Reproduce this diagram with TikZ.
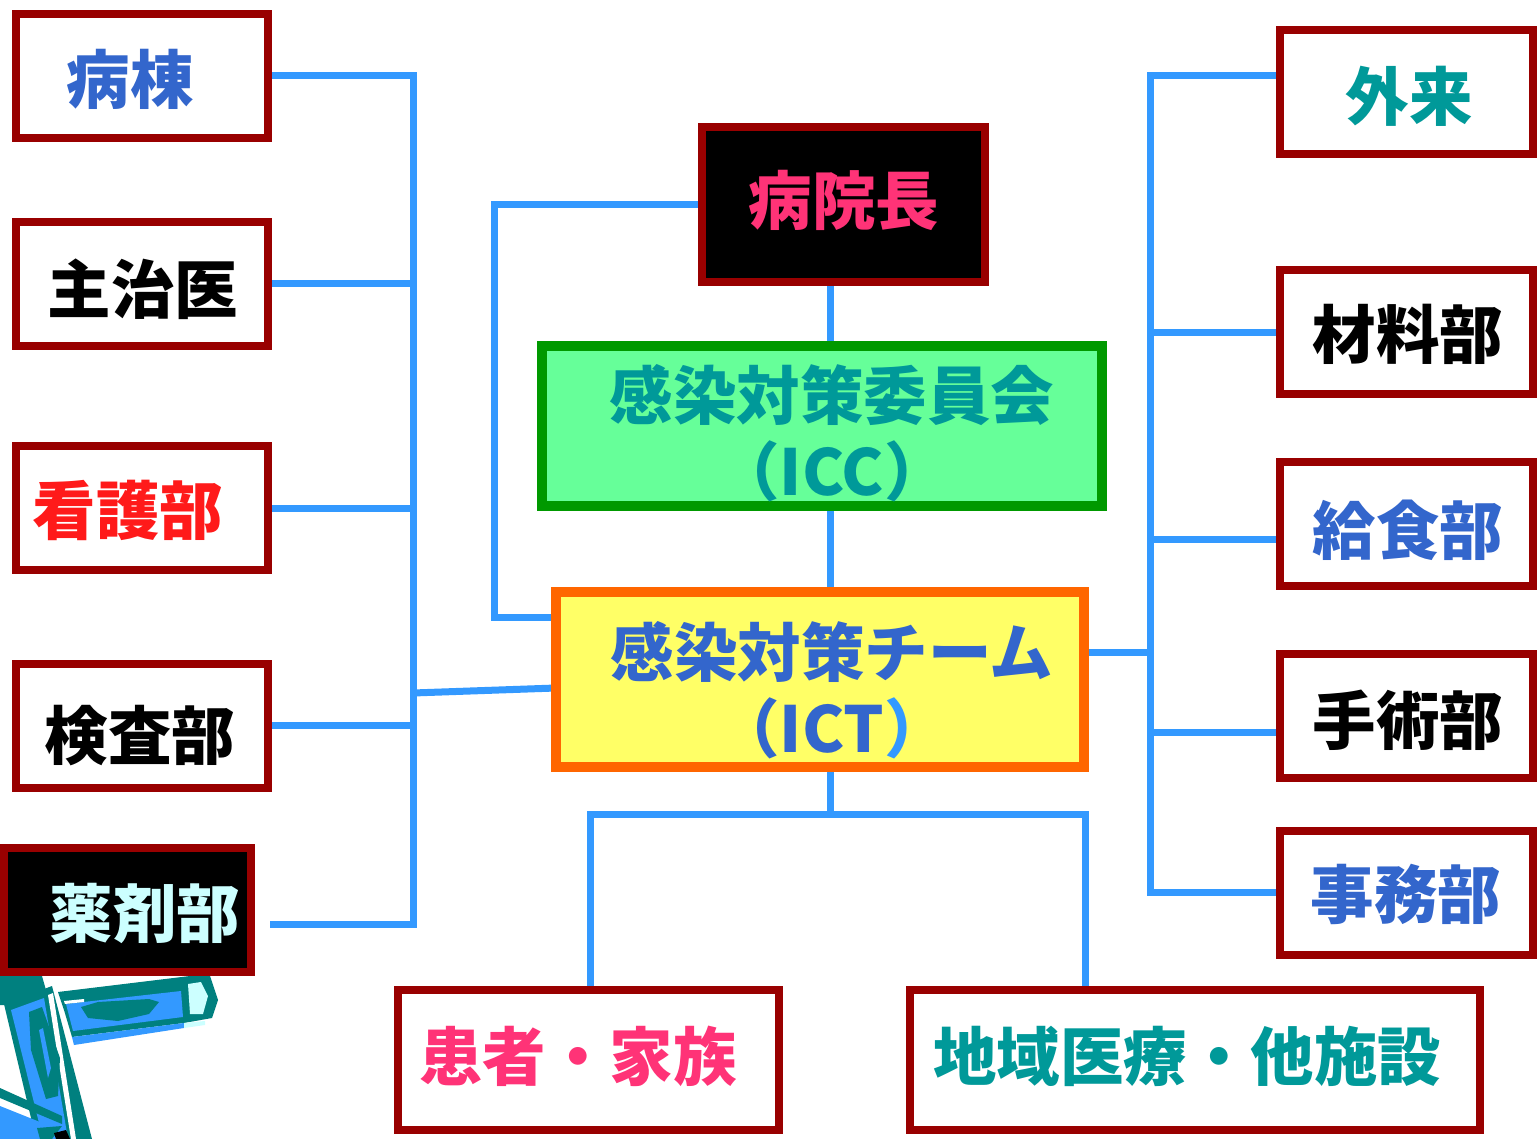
\documentclass[tikz,border=0pt]{standalone}
\usepackage{fontspec}
\setmainfont{Noto Sans CJK JP}
\newfontfamily\jp{Noto Sans CJK JP}
\usetikzlibrary{backgrounds,calc}

\definecolor{boxred}{HTML}{990000}
\definecolor{linkblue}{HTML}{3399FF}
\definecolor{txtblue}{HTML}{3366CC}
\definecolor{txtteal}{HTML}{009999}
\definecolor{txtpink}{HTML}{FF3377}
\definecolor{txtred}{HTML}{FF1A1A}
\definecolor{txtcyan}{HTML}{CCFFFF}
\definecolor{iccgreen}{HTML}{009900}
\definecolor{iccfill}{HTML}{66FF99}
\definecolor{ictorange}{HTML}{FF6600}
\definecolor{ictfill}{HTML}{FFFF66}
\definecolor{clipteal}{HTML}{00807F}
\definecolor{clipblue}{HTML}{3399FF}
\definecolor{clipcyan}{HTML}{CCFFFF}

\tikzset{
  orgbox/.style={draw=boxred, line width=8pt, fill=white, outer sep=0pt, inner sep=0pt,
                 minimum width=252pt, minimum height=124pt},
  link/.style={draw=linkblue, line width=7pt},
  lbl/.style={inner sep=0pt, outer sep=0pt, align=center,
              font=\jp\bfseries\fontsize{63.5}{76}\selectfont},
}

\begin{document}
\begin{tikzpicture}[x=1pt,y=-1pt]
\useasboundingbox (0,0) rectangle (1537,1139);

% ---- clipart: capsules (bottom left) ----
\fill[clipteal] (0,976) -- (42,976) -- (46,990) -- (14,1005) -- (0,1005) -- cycle;
\fill[clipteal] (4,1004) -- (52,986) -- (92,1139) -- (36,1139) -- cycle;
\fill[clipblue] (11,1010) -- (44,998) -- (68,1139) -- (43,1139) -- cycle;
\fill[white] (48,995) -- (53,993) -- (76,1139) -- (71,1139) -- cycle;
\fill[clipteal] (29,1012) -- (42,1007) -- (60,1058) -- (58,1096) -- (46,1099) -- (31,1050) -- cycle;
\fill[clipblue] (39,1030) -- (43,1028) -- (51,1068) -- (48,1078) -- cycle;
\fill[clipteal] (0,1088) -- (62,1116) -- (62,1124) -- (0,1098) -- cycle;
\fill[clipblue] (0,1106) -- (40,1122) -- (46,1139) -- (0,1139) -- cycle;
\fill[clipteal] (37,1128) -- (62,1126) -- (52,1139) -- (40,1139) -- cycle;
\fill[black] (54,1133) -- (66,1130) -- (70,1139) -- (56,1139) -- cycle;
% horizontal capsule
\fill[clipteal] (58,992) -- (190,976) -- (210,976) -- (218,1000) -- (212,1018)
  -- (184,1023) -- (72,1037) -- (64,1010) -- cycle;
\fill[clipblue] (72,1037) -- (184,1023) -- (184,1028) -- (74,1045) -- cycle;
\fill[clipcyan] (184,1023) -- (205,1021) -- (205,1025) -- (184,1028) -- cycle;
\fill[clipblue] (66,1004) -- (181,991) -- (183,1017) -- (73,1031) -- cycle;
\fill[white] (64,1001) -- (84,999) -- (84,1002) -- (65,1004) -- cycle;
\fill[clipteal] (81,1007) -- (98,1002) -- (149,999) -- (159,1002) -- (149,1014)
  -- (118,1021) -- (88,1018) -- cycle;
\fill[clipcyan] (188,984) -- (201,982) -- (208,996) -- (203,1014) -- (190,1014) -- cycle;

% ---- left column ----
\node[orgbox] (byoto)  at (142,76)    {};
\node[orgbox] (shuji)  at (142,284)   {};
\node[orgbox] (kango)  at (142,508)   {};
\node[orgbox] (kensa)  at (142,725.5) {};
\node[orgbox, fill=black, minimum width=247pt] (yakuzai) at (127.5,910) {};

\node[lbl, text=txtblue] (t-byoto) at (130,79)  {病棟};
\node[lbl, text=black]   (t-shuji) at (143,289) {主治医};
\node[lbl, text=txtred]  (t-kango) at (128,510) {看護部};
\node[lbl, text=black]   (t-kensa) at (140,736) {検査部};
\node[lbl, text=txtcyan] (t-yakuzai) at (145,913) {薬剤部};

% ---- right column ----
\node[orgbox, minimum width=253pt] (gairai)   at (1406.5,92)    {};
\node[orgbox, minimum width=253pt] (zairyo)   at (1406.5,332.5) {};
\node[orgbox, minimum width=253pt] (kyushoku) at (1406.5,524)   {};
\node[orgbox, minimum width=253pt] (shujutsu) at (1406.5,716)   {};
\node[orgbox, minimum width=253pt] (jimu)     at (1406.5,892.5) {};

\node[lbl, text=txtteal] (t-gairai)   at (1409,96)  {外来};
\node[lbl, text=black]   (t-zairyo)   at (1408,334) {材料部};
\node[lbl, text=txtblue] (t-kyushoku) at (1408,530) {給食部};
\node[lbl, text=black]   (t-shujutsu) at (1408,720) {手術部};
\node[lbl, text=txtblue] (t-jimu)     at (1406,894) {事務部};

% ---- centre column ----
\node[orgbox, fill=black, minimum width=283pt, minimum height=155pt] (inchou) at (843.5,204.5) {};
\node[lbl, text=txtpink] (t-inchou) at (844,200) {病院長};

\node[orgbox, draw=iccgreen, fill=iccfill, line width=10pt,
      minimum width=560pt, minimum height=160pt] (icc) at (822,426) {};
\node[lbl, text=txtteal] (t-icc) at (832,433) {感染対策委員会\\（ICC）};

\node[orgbox, draw=ictorange, fill=ictfill, line width=10pt,
      minimum width=528pt, minimum height=175pt] (ict) at (820,679.5) {};
\node[lbl, text=txtblue] (t-ict) at (832,690) {感染対策チーム\\（ICT{\color{linkblue}）}};

% ---- bottom row ----
\node[orgbox, minimum width=381pt, minimum height=140pt] (kanja)  at (588.5,1060) {};
\node[orgbox, minimum width=570pt, minimum height=140pt] (chiiki) at (1195,1060)  {};
\node[lbl, text=txtpink] (t-kanja)  at (578,1056)  {患者・家族};
\node[lbl, text=txtteal] (t-chiiki) at (1187,1056) {地域医療・他施設};

% ---- connectors ----
\coordinate (lbT) at (413,76);
\coordinate (lbB) at (413,924);
\coordinate (lbJ) at (413,693);
\coordinate (yk)  at (270,924);
\coordinate (hc)  at (494,617);
\coordinate (cx)  at (830,0);
\coordinate (bl)  at (590,814);
\coordinate (br)  at (1085,814);
\coordinate (rbT) at (1150,76);
\coordinate (rbB) at (1150,892);
\coordinate (rk)  at (1150,539);
\coordinate (rs)  at (1150,732);
\coordinate (rj)  at (1150,652);

\begin{scope}[on background layer]
  \fill[white] (0,0) rectangle (1537,1139);
  % left bracket
  \draw[link] (byoto.east) -- (lbT) -- (lbB) -- (yk);
  \draw[link] (shuji.east) -- (shuji.east -| lbT);
  \draw[link] (kango.east) -- (kango.east -| lbT);
  \draw[link] (kensa.east) -- (kensa.east -| lbT);
  \draw[link] (lbJ) -- ($(ict.west)+(0,8.5)$);
  % director to team
  \draw[link] (inchou.west) -| (hc) -- (hc -| ict.west);
  % centre spine
  \draw[link] (inchou.south -| cx) -- (icc.north -| cx);
  \draw[link] (icc.south -| cx) -- (ict.north -| cx);
  \draw[link] (ict.south -| cx) -- (bl -| cx);
  \draw[link] (kanja.north -| bl) -- (bl) -- (br) -- (chiiki.north -| br);
  % right bracket
  \draw[link] (gairai.west |- rbT) -- (rbT) -- (rbB) -- (jimu.west |- rbB);
  \draw[link] (zairyo.west) -- (zairyo.west -| rbT);
  \draw[link] (kyushoku.west |- rk) -- (rk);
  \draw[link] (shujutsu.west |- rs) -- (rs);
  \draw[link] (ict.east |- rj) -- (rj);
\end{scope}
\end{tikzpicture}
\end{document}
